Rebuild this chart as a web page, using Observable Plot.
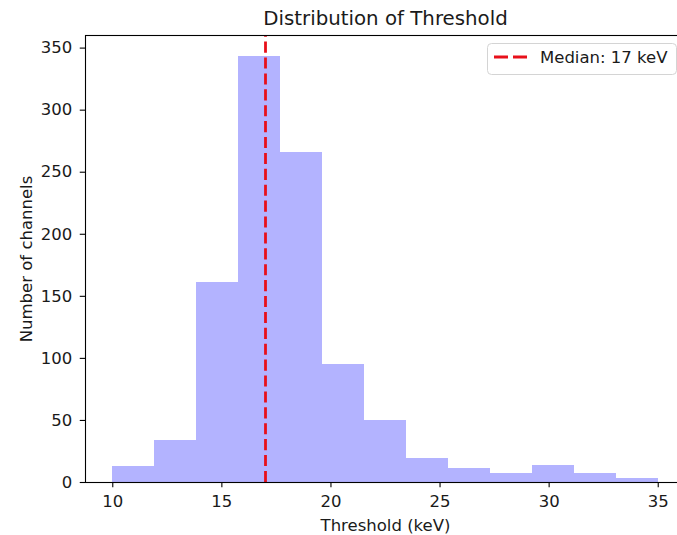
<!DOCTYPE html>
<html><head><meta charset="utf-8">
<script src="https://cdn.jsdelivr.net/npm/d3@7"></script>
<script src="https://cdn.jsdelivr.net/npm/@observablehq/plot@0.6"></script>
<style>
html,body{margin:0;padding:0;background:#fff;overflow:hidden;}
#chart{position:relative;width:677px;height:535px;overflow:hidden;}
svg{font-family:"DejaVu Sans",sans-serif;}
</style>
</head><body><div id="chart"></div>
<script>
const binStart = 10;
const binEnd = 35;
const counts = [13, 34, 161, 343, 266, 95, 50, 19, 11, 7, 14, 7, 3];
const medianValue = 17;
const xTicks = [10, 15, 20, 25, 30, 35];
const yTicks = [0, 50, 100, 150, 200, 250, 300, 350];
const titleText = "Distribution of Threshold";
const xLabel = "Threshold (keV)";
const yLabel = "Number of channels";
const legendLabel = "Median: 17 keV";

const w = (binEnd - binStart) / counts.length;
const bins = counts.map((c, i) => ({x1: binStart + i * w, x2: binStart + (i + 1) * w, y: c}));
const yMax = 360.15;
const textColor = "#1a1a1a";
const lineRed = "#e8101a";
const fs = 16.5;

const plot = Plot.plot({
  width: 677, height: 535,
  marginLeft: 85, marginRight: -8, marginTop: 35, marginBottom: 53,
  style: {fontSize: fs + "px", fontFamily: "DejaVu Sans, sans-serif", color: textColor, overflow: "hidden"},
  x: {domain: [8.75, 36.25], label: null},
  y: {domain: [0, yMax], label: null},
  marks: [
    Plot.rectY(bins, {x1: "x1", x2: "x2", y: "y", fill: "rgb(179,179,255)", inset: 0, shapeRendering: "crispEdges"}),
    Plot.ruleX([medianValue], {y1: 0, y2: yMax, stroke: lineRed, strokeWidth: 2.8, strokeDasharray: "11.1,4.8"}),
    Plot.frame({stroke: "#000", strokeWidth: 1.1}),
    Plot.axisX({ticks: xTicks, tickSize: 5.25, tickPadding: 8, fontSize: fs, label: null, stroke: "#000", strokeWidth: 1.1, fill: textColor}),
    Plot.axisY({ticks: yTicks, tickSize: 5.25, tickPadding: 8, fontSize: fs, label: null, stroke: "#000", strokeWidth: 1.1, fill: textColor}),
    Plot.text([titleText], {frameAnchor: "top", dy: -24.8, fontSize: 19.8, fill: textColor}),
    Plot.text([xLabel], {frameAnchor: "bottom", dy: 48, fontSize: fs, fill: textColor}),
    Plot.text([yLabel], {frameAnchor: "left", textAnchor: "middle", dx: -59, dy: 0, rotate: -90, fontSize: fs, fill: textColor})
  ]
});
document.getElementById("chart").appendChild(plot);

// legend box inside the axes (upper right)
const svg = d3.select(plot);
const lg = svg.append("g").attr("transform", "translate(487.5,43.5)");
lg.append("rect").attr("x", 0).attr("y", 0).attr("width", 189).attr("height", 31)
  .attr("rx", 4).attr("fill", "white").attr("fill-opacity", 0.85).attr("stroke", "#d4d4d4");
lg.append("line").attr("x1", 6.5).attr("x2", 39.5).attr("y1", 13.5).attr("y2", 13.5)
  .attr("stroke", lineRed).attr("stroke-width", 2.8).attr("stroke-dasharray", "14,5");
lg.append("text").attr("x", 52.5).attr("y", 19.5).attr("font-size", fs).attr("fill", textColor)
  .attr("text-anchor", "start").attr("font-family", "DejaVu Sans, sans-serif").text(legendLabel);
</script>
</body></html>
